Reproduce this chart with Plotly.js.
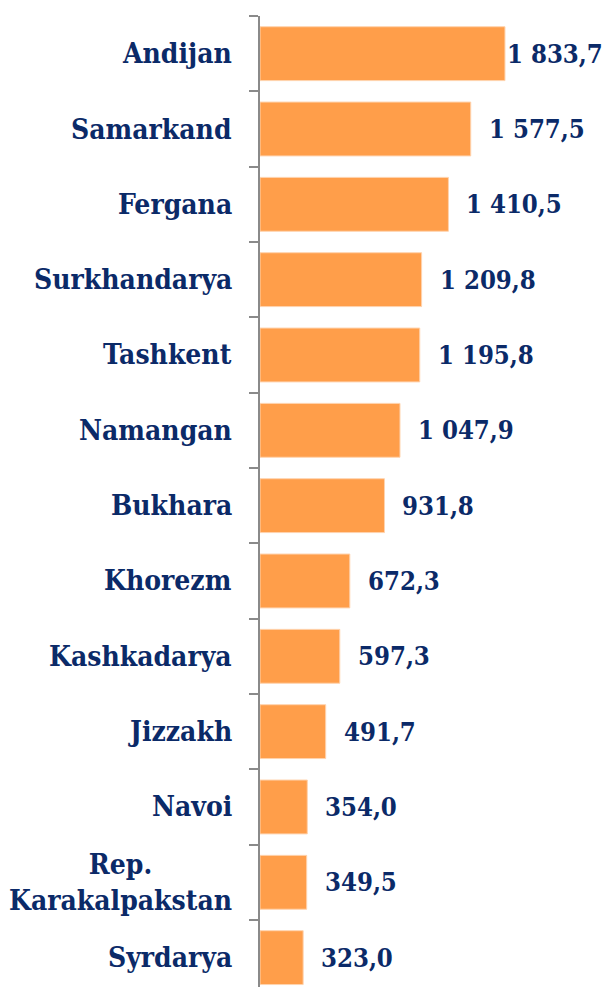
<!DOCTYPE html>
<html><head><meta charset="utf-8">
<script src="https://cdn.plot.ly/plotly-3.0.1.min.js"></script>
<style>html,body{margin:0;padding:0;background:#fff;}#chart{width:604px;height:987px;}</style>
</head><body><div id="chart"></div>
<script>
var regions = ["Andijan","Samarkand","Fergana","Surkhandarya","Tashkent","Namangan","Bukhara","Khorezm","Kashkadarya","Jizzakh","Navoi","Rep.<br>Karakalpakstan","Syrdarya"];
var values = [1833.7,1577.5,1410.5,1209.8,1195.8,1047.9,931.8,672.3,597.3,491.7,354.0,349.5,323.0];
var valueLabels = ["1 833,7","1 577,5","1 410,5","1 209,8","1 195,8","1 047,9","931,8","672,3","597,3","491,7","354,0","349,5","323,0"];

var navy = "#0B2A68";
var fontFam = "DejaVu Serif Condensed";
var W = 604, H = 987, ml = 260, mt = 16;
var xMax = 2575;
var plotW = W - ml;
var slot = 75.33;
var labelW = 98;

var idx = regions.map(function(_, i){ return i; });
var ann = [];
regions.forEach(function(r, i){
  ann.push({x:0, y:i, xref:'x', yref:'y', text:r, showarrow:false,
    xanchor:'right', yanchor:'middle', align:'center', xshift:-26,
    font:{family:fontFam, size:28, color:navy, weight:'bold'}});
  var endPx = values[i]/xMax*plotW;
  var shift = Math.max(0, Math.min(16, plotW - endPx - labelW - 1));
  ann.push({x:values[i], y:i, xref:'x', yref:'y', text:valueLabels[i], showarrow:false,
    xanchor:'left', yanchor:'middle', xshift:shift,
    font:{family:fontFam, size:25.5, color:navy, weight:'bold'}});
});

var trace = {type:'bar', orientation:'h', x:values, y:idx, width:0.715,
  marker:{color:'#FF9E4A', line:{color:'#FFD3AE', width:1}}, hoverinfo:'none'};

var layout = {
  width:W, height:H, margin:{l:ml, r:0, t:mt, b:0}, showlegend:false,
  paper_bgcolor:'#fff', plot_bgcolor:'#fff',
  font:{family:fontFam},
  xaxis:{range:[0,xMax], visible:false, fixedrange:true},
  yaxis:{type:'linear', range:[-0.5 + (H-mt)/slot, -0.5], showgrid:false, zeroline:false,
    showline:true, linecolor:'#8A8A8A', linewidth:2,
    ticks:'outside', ticklen:9, tickwidth:2, tickcolor:'#8A8A8A',
    tickmode:'array', tickvals:regions.map(function(_, i){ return i - 0.5; }).concat([regions.length-0.5]),
    showticklabels:false},
  annotations:ann
};
Plotly.newPlot('chart', [trace], layout, {staticPlot:true});
</script></body></html>
